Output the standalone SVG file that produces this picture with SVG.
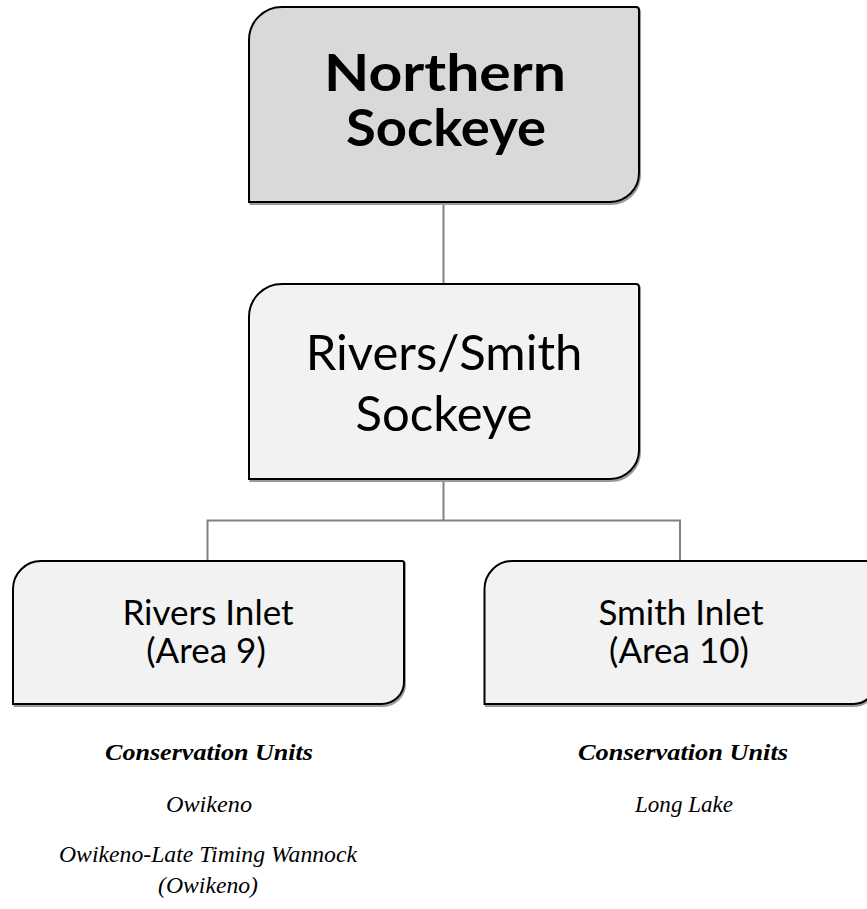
<svg xmlns="http://www.w3.org/2000/svg" width="867" height="909" viewBox="0 0 867 909">
<style>
.box{stroke:#000;stroke-width:2;}
.shadow{fill:none;stroke:#9a9a9a;stroke-width:2;}
.dark{fill:#d9d9d9;}
.light{fill:#f2f2f2;}
.conn{fill:none;stroke:#808080;stroke-width:2;}
.sans{font-family:Lato,"Open Sans","DejaVu Sans",sans-serif;fill:#000;text-anchor:middle;}
.it{font-family:"Liberation Serif","DejaVu Serif",serif;font-style:italic;font-size:24px;fill:#000;text-anchor:middle;}
</style>
<rect width="867" height="909" fill="#fff"/>
<g id="connectors">
<line class="conn" x1="443.5" y1="202" x2="443.5" y2="284"/>
<polyline class="conn" points="443.5,479 443.5,520.5"/>
<polyline class="conn" points="207.5,561 207.5,520.5 680,520.5 680,561"/>
</g>
<g id="node-northern">
<path class="shadow" d="M250.5,42 A33,33 0 0 1 283.5,9 L637,9 A3,3 0 0 1 640,12 L640,175 A29,29 0 0 1 611,204 L250.5,204 Z"/>
<path class="box dark" d="M249,40 A33,33 0 0 1 282,7 L636,7 A3,3 0 0 1 639,10 L639,173 A29,29 0 0 1 610,202 L249,202 Z"/>
<text class="sans" x="445" y="91" font-size="51" font-weight="bold" textLength="242" lengthAdjust="spacingAndGlyphs">Northern</text>
<text class="sans" x="446" y="146" font-size="51" font-weight="bold" textLength="200" lengthAdjust="spacingAndGlyphs">Sockeye</text>
</g>
<g id="node-rivers-smith">
<path class="shadow" d="M250.5,318 A33,33 0 0 1 283.5,285.5 L637,285.5 A3,3 0 0 1 640,288.5 L640,452 A29,29 0 0 1 611,481 L250.5,481 Z"/>
<path class="box light" d="M249,317 A33,33 0 0 1 282,284 L636,284 A3,3 0 0 1 639,287 L639,450 A29,29 0 0 1 610,479 L249,479 Z"/>
<text class="sans" x="444" y="370" font-size="49">Rivers/Smith</text>
<text class="sans" x="444" y="431" font-size="49">Sockeye</text>
</g>
<g id="node-rivers-inlet">
<path class="shadow" d="M14.5,591 A28,28 0 0 1 42.5,562.5 L402,562.5 A2,2 0 0 1 405,565 L405,684 A22,22 0 0 1 383,706 L14.5,706 Z"/>
<path class="box light" d="M13,589 A28,28 0 0 1 41,561 L402,561 A2,2 0 0 1 404,563 L404,682 A22,22 0 0 1 382,704 L13,704 Z"/>
<text class="sans" x="208" y="625" font-size="35">Rivers Inlet</text>
<text class="sans" x="206" y="663" font-size="35">(Area 9)</text>
</g>
<g id="node-smith-inlet">
<path class="shadow" d="M486,591 A28,28 0 0 1 514,562.5 L874,562.5 A2,2 0 0 1 876,565 L876,684 A22,22 0 0 1 854,706 L486,706 Z"/>
<path class="box light" d="M484.5,589 A28,28 0 0 1 512.5,561 L873.5,561 A2,2 0 0 1 875.5,563 L875.5,682 A22,22 0 0 1 853.5,704 L484.5,704 Z"/>
<text class="sans" x="681" y="625" font-size="35">Smith Inlet</text>
<text class="sans" x="679" y="663" font-size="35">(Area 10)</text>
</g>
<g id="cu-rivers">
<text class="it" x="209" y="760" font-weight="bold" textLength="208" lengthAdjust="spacingAndGlyphs">Conservation Units</text>
<text class="it" x="209" y="812" textLength="86" lengthAdjust="spacingAndGlyphs">Owikeno</text>
<text class="it" x="208" y="862" textLength="298" lengthAdjust="spacingAndGlyphs">Owikeno-Late Timing Wannock</text>
<text class="it" x="208" y="893" textLength="100" lengthAdjust="spacingAndGlyphs">(Owikeno)</text>
</g>
<g id="cu-smith">
<text class="it" x="683" y="760" font-weight="bold" textLength="210" lengthAdjust="spacingAndGlyphs">Conservation Units</text>
<text class="it" x="684" y="812" textLength="98" lengthAdjust="spacingAndGlyphs">Long Lake</text>
</g>
</svg>
